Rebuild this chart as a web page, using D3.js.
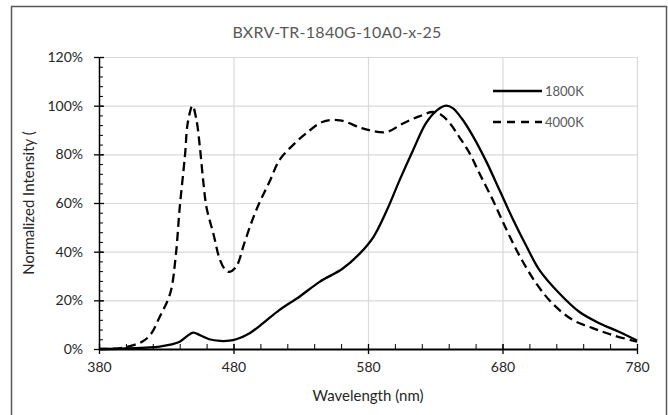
<!DOCTYPE html>
<html>
<head>
<meta charset="utf-8">
<script src="https://cdn.jsdelivr.net/npm/d3@7"></script>
<style>
  body { margin: 0; background: #fff; }
  svg text { font-family: Lato, "Open Sans", sans-serif; }
</style>
</head>
<body>
<script>
// spectra
const wl4000 = [380, 395, 405, 412, 418, 425, 433, 437, 440, 444, 446, 449.5, 452.5, 455, 457.5, 460, 465, 470, 474, 477,
  482, 488, 494, 500, 507, 514, 524, 534, 546, 559, 574, 581, 594, 606, 618, 628, 634, 641, 648, 655,
  663, 673, 683, 693, 705, 717, 732, 747, 762, 780];
const val4000 = [0, 0.3, 1.5, 3, 5.7, 13, 23, 38, 58, 80, 93, 100, 94, 83, 69, 58, 47.5, 36.5, 32.5, 31.7,
  33.8, 43.4, 53, 61, 69, 77.5, 83.7, 88.6, 93.3, 94, 91, 89.9, 89.2, 92.7, 95.6, 97.4, 96.4, 92.7, 87, 81,
  72, 61, 49, 38, 27, 18.8, 12, 8.6, 5.7, 3];

const wl1800 = [380, 400, 415, 425, 433, 440, 446, 450, 455, 462, 470, 477, 482, 492, 502, 514, 529, 544, 561, 574,
  584, 594, 603.5, 613.5, 623, 631, 638, 643, 650, 658, 668, 678, 688, 698, 707.5, 722, 737, 752, 767, 780];
const val1800 = [0, 0.2, 0.6, 1, 1.8, 3, 5.5, 6.7, 5.7, 4, 3.3, 3.4, 4, 6.5, 10.6, 16, 21.5, 27.6, 33, 39.3,
  46, 57, 69.4, 81.7, 92.7, 98, 100, 99, 94.5, 87.5, 77, 65, 53, 42, 32.4, 23, 15.3, 10.6, 7, 3.5];

const seriesNames = ['1800K', '4000K'];
const xTicks = [380, 480, 580, 680, 780];
const yTicks = [0, 20, 40, 60, 80, 100, 120];
const title = 'BXRV-TR-1840G-10A0-x-25';

const width = 668, height = 415;
const margin = {left: 99, right: 31, top: 57, bottom: 66};

const svg = d3.select('body').append('svg')
  .attr('width', width)
  .attr('height', height);

// outer chart frame
svg.append('rect')
  .attr('x', 11.5).attr('y', 6.5)
  .attr('width', 655).attr('height', 420)
  .attr('fill', 'none')
  .attr('stroke', '#595959')
  .attr('stroke-width', 1.5);

const x = d3.scaleLinear().domain([380, 780]).range([margin.left, width - margin.right]);
const y = d3.scaleLinear().domain([0, 120]).range([height - margin.bottom, margin.top]);

// gridlines
svg.append('g')
  .selectAll('line.h')
  .data(yTicks.filter(d => d > 0))
  .join('line')
  .attr('x1', x(380)).attr('x2', x(780))
  .attr('y1', d => y(d) + 0.5).attr('y2', d => y(d) + 0.5)
  .attr('stroke', '#d9d9d9').attr('stroke-width', 1.2);

svg.append('g')
  .selectAll('line.v')
  .data(xTicks.filter(d => d > 380))
  .join('line')
  .attr('x1', d => x(d) + 0.5).attr('x2', d => x(d) + 0.5)
  .attr('y1', y(0)).attr('y2', y(120))
  .attr('stroke', '#d9d9d9').attr('stroke-width', 1.2);

// minor ticks
svg.append('g')
  .call(d3.axisRight(y).tickValues(d3.range(0, 121, 4)).tickSize(4).tickFormat(''))
  .attr('transform', `translate(${x(380)},0)`)
  .call(g => g.select('.domain').remove())
  .selectAll('line').attr('stroke', '#000');

svg.append('g')
  .call(d3.axisTop(x).tickValues(d3.range(380, 781, 20)).tickSize(5).tickFormat(''))
  .attr('transform', `translate(0,${y(0)})`)
  .call(g => g.select('.domain').remove())
  .selectAll('line').attr('stroke', '#000');

// y axis
const yAxis = svg.append('g')
  .attr('transform', `translate(${x(380)},0)`)
  .call(d3.axisLeft(y).tickValues(yTicks).tickSize(5).tickPadding(11).tickFormat(d => d + '%'));
yAxis.select('.domain').attr('d', `M0.5,${y(120)}V${y(0)}`).attr('stroke', '#000').attr('stroke-width', 1.5);
yAxis.selectAll('.tick line').attr('x2', -5).attr('x1', 5).attr('stroke', '#000').attr('stroke-width', 1.3);
yAxis.selectAll('text').attr('fill', '#262626').style('font-size', '14px');

// x axis
const xAxis = svg.append('g')
  .attr('transform', `translate(0,${y(0)})`)
  .call(d3.axisBottom(x).tickValues(xTicks).tickSize(5).tickPadding(8));
xAxis.select('.domain').attr('d', `M${x(380)},0.5H${x(780)}`).attr('stroke', '#000').attr('stroke-width', 2);
xAxis.selectAll('.tick line').attr('y1', -5).attr('y2', 5).attr('stroke', '#000').attr('stroke-width', 1.3);
xAxis.selectAll('text').attr('fill', '#262626').style('font-size', '14px');

// curves
const line = d3.line()
  .x(d => x(d[0]))
  .y(d => y(d[1]))
  .curve(d3.curveCatmullRom.alpha(0.5));

svg.append('path')
  .datum(d3.zip(wl1800, val1800))
  .attr('d', line)
  .attr('fill', 'none')
  .attr('stroke', '#000')
  .attr('stroke-width', 2.3);

svg.append('path')
  .datum(d3.zip(wl4000, val4000))
  .attr('d', line)
  .attr('fill', 'none')
  .attr('stroke', '#000')
  .attr('stroke-width', 2.3)
  .attr('stroke-dasharray', '9,5');

// legend
const legend = svg.append('g');
seriesNames.forEach((name, i) => {
  const ly = 91 + i * 31;
  legend.append('line')
    .attr('x1', 493).attr('x2', 542)
    .attr('y1', ly).attr('y2', ly)
    .attr('stroke', '#000')
    .attr('stroke-width', 2.3)
    .attr('stroke-dasharray', i === 1 ? '8,6' : null);
  legend.append('text')
    .attr('x', 545).attr('y', ly + 4.5)
    .attr('fill', '#595959')
    .style('font-size', '13px')
    .text(name);
});

// titles
svg.append('text')
  .attr('x', 337).attr('y', 38)
  .attr('text-anchor', 'middle')
  .attr('fill', '#595959')
  .style('font-size', '16px')
  .style('letter-spacing', '0.3px')
  .text(title);

svg.append('text')
  .attr('x', 368).attr('y', 401)
  .attr('text-anchor', 'middle')
  .attr('fill', '#262626')
  .style('font-size', '15px')
  .text('Wavelength (nm)');

svg.append('text')
  .attr('transform', `translate(34,203) rotate(-90)`)
  .attr('text-anchor', 'middle')
  .attr('fill', '#262626')
  .style('font-size', '15px')
  .text('Normalized Intensity (');
</script>
</body>
</html>
